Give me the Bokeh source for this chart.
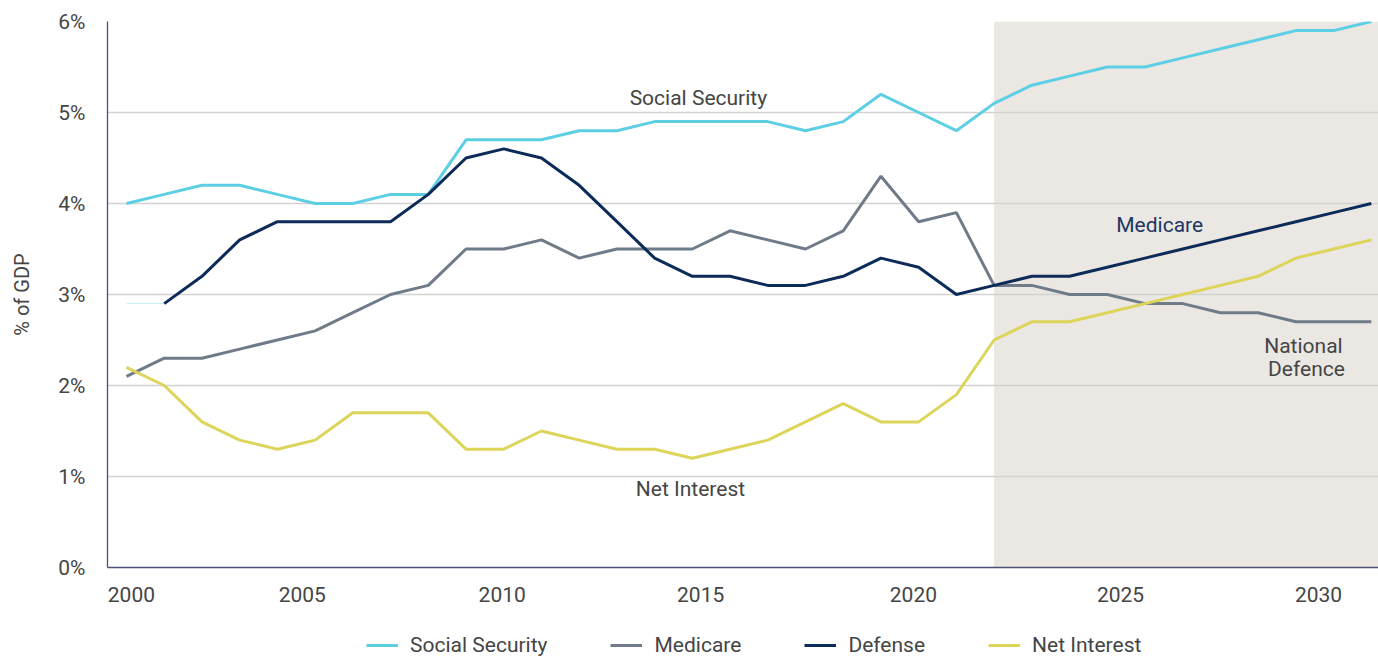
from bokeh.plotting import figure
from bokeh.layouts import column
from bokeh.models import Range1d, FixedTicker, BoxAnnotation, Label, Legend, LegendItem
from bokeh.embed import file_html
from bokeh.resources import INLINE

FONT = "Roboto"

years = list(range(2000, 2034))
social_security = [4.0, 4.1, 4.2, 4.2, 4.1, 4.0, 4.0, 4.1, 4.1,
                   4.7, 4.7, 4.7, 4.8, 4.8, 4.9, 4.9, 4.9, 4.9, 4.8, 4.9, 5.2, 5.0,
                   4.8, 5.1, 5.3, 5.4, 5.5, 5.5, 5.6, 5.7, 5.8, 5.9, 5.9, 6.0]
medicare = [2.1, 2.3, 2.3, 2.4, 2.5, 2.6, 2.8, 3.0, 3.1,
            3.5, 3.5, 3.6, 3.4, 3.5, 3.5, 3.5, 3.7, 3.6, 3.5, 3.7, 4.3, 3.8,
            3.9, 3.1, 3.1, 3.0, 3.0, 2.9, 2.9, 2.8, 2.8, 2.7, 2.7, 2.7]
defense = [2.9, 2.9, 3.2, 3.6, 3.8, 3.8, 3.8, 3.8, 4.1,
           4.5, 4.6, 4.5, 4.2, 3.8, 3.4, 3.2, 3.2, 3.1, 3.1, 3.2, 3.4, 3.3,
           3.0, 3.1, 3.2, 3.2, 3.3, 3.4, 3.5, 3.6, 3.7, 3.8, 3.9, 4.0]
net_interest = [2.2, 2.0, 1.6, 1.4, 1.3, 1.4, 1.7, 1.7, 1.7,
                1.3, 1.3, 1.5, 1.4, 1.3, 1.3, 1.2, 1.3, 1.4, 1.6, 1.8, 1.6, 1.6,
                1.9, 2.5, 2.7, 2.7, 2.8, 2.9, 3.0, 3.1, 3.2, 3.4, 3.5, 3.6]
projection_start = 2023

series_names = ["Social Security", "Medicare", "Defense", "Net Interest"]
x_tick_labels = ["2000", "2005", "2010", "2015", "2020", "2025", "2030"]
x_tick_pos = [2000.13, 2004.66, 2009.96, 2015.22, 2020.86, 2026.35, 2031.60]
y_ticks = [0, 1, 2, 3, 4, 5, 6]
y_tick_labels = ["0%", "1%", "2%", "3%", "4%", "5%", "6%"]

C_SS = "#5dcfe5"
C_MED = "#6f7b88"
C_DEF = "#0c2b58"
C_NI = "#ddd45a"
TXT = "#454545"
FS = "21px"

p = figure(frame_width=1271, frame_height=546, output_backend="svg", toolbar_location=None,
           x_range=Range1d(1999.496, 2033.19), y_range=Range1d(0, 6),
           min_border_left=107, min_border_right=0, min_border_top=21, min_border_bottom=50)
p.outline_line_color = None
p.background_fill_color = "white"

shade = BoxAnnotation(left=projection_start, fill_color="#ebe8e3", fill_alpha=1.0,
                      line_alpha=0, level="image")
p.add_layout(shade)

p.xgrid.visible = False
p.ygrid.ticker = FixedTicker(ticks=y_ticks)
p.ygrid.grid_line_color = "#d2d2d2"
p.ygrid.grid_line_width = 1.3

for ax in (p.xaxis[0], p.yaxis[0]):
    ax.axis_line_color = "#4d5275"
    ax.axis_line_width = 1.3
    ax.major_tick_line_color = None
    ax.minor_tick_line_color = None
    ax.major_label_text_font = FONT
    ax.major_label_text_font_size = FS
    ax.major_label_text_color = TXT

p.yaxis.ticker = FixedTicker(ticks=y_ticks)
p.yaxis.major_label_overrides = {t: l for t, l in zip(y_ticks, y_tick_labels)}
p.yaxis.major_label_standoff = 16
p.yaxis.axis_label = "% of GDP"
p.yaxis.axis_label_text_font = FONT
p.yaxis.axis_label_text_font_size = "20px"
p.yaxis.axis_label_text_font_style = "normal"
p.yaxis.axis_label_text_color = TXT
p.yaxis.axis_label_standoff = 21

p.xaxis.ticker = FixedTicker(ticks=x_tick_pos)
p.xaxis.major_label_overrides = {t: l for t, l in zip(x_tick_pos, x_tick_labels)}
p.xaxis.major_label_standoff = 13

# faint first segment of the defense series
p.line(years[:2], defense[:2], line_color="#c8ecf3", line_width=1)

p.line(years, social_security, line_color=C_SS, line_width=3)
p.line(years, medicare, line_color=C_MED, line_width=3)
p.line(years[1:], defense[1:], line_color=C_DEF, line_width=3)
p.line(years, net_interest, line_color=C_NI, line_width=3)

def add_label(x, y, text, color=TXT):
    p.add_layout(Label(x=x, y=y, text=text, text_align="center", text_baseline="middle",
                       text_font=FONT, text_font_size=FS, text_color=color))

add_label(2015.16, 5.16, "Social Security")
add_label(2014.95, 0.86, "Net Interest")
add_label(2027.39, 3.76, "Medicare", "#1d3662")
add_label(2031.2, 2.43, "National")
add_label(2031.28, 2.18, "Defence")

# legend strip below the chart (same series, drawn out of view; only the legend shows)
lg = figure(width=1378, height=41, output_backend="svg", toolbar_location=None,
            x_range=Range1d(0, 1), y_range=Range1d(0, 1),
            min_border_left=0, min_border_right=0, min_border_top=0, min_border_bottom=0)
lg.axis.visible = False
lg.grid.visible = False
lg.outline_line_color = None
rs = []
for vals, col in zip([social_security, medicare, defense, net_interest],
                     [C_SS, C_MED, C_DEF, C_NI]):
    rs.append(lg.line(years, vals, line_color=col, line_width=3))

legend = Legend(items=[LegendItem(label=n, renderers=[r]) for n, r in zip(series_names, rs)],
                orientation="horizontal", location=(259, 1),
                label_text_font=FONT, label_text_font_size=FS, label_text_color=TXT,
                glyph_width=32, label_standoff=12, spacing=63,
                border_line_color=None, background_fill_alpha=0,
                padding=0, margin=0)
lg.add_layout(legend)

layout = column(p, lg, spacing=0)
open("out.html", "w").write(file_html(layout, INLINE))
